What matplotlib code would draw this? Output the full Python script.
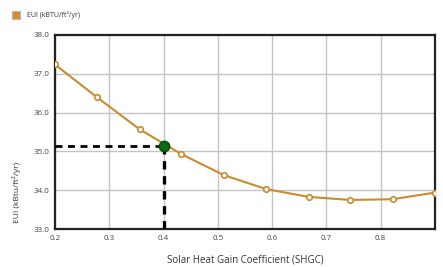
import matplotlib
matplotlib.use("Agg")
import matplotlib.pyplot as plt
from matplotlib.patches import Rectangle

# SHGC sweep and resulting EUI
shgc = [0.2, 0.278, 0.356, 0.433, 0.511, 0.589, 0.667, 0.744, 0.822, 0.9]
eui = [37.24, 36.39, 35.57, 34.93, 34.39, 34.03, 33.83, 33.75, 33.77, 33.94]

# selected design point
sel_shgc = 0.4
sel_eui = 35.15

x_ticks = [0.2, 0.3, 0.4, 0.5, 0.6, 0.7, 0.8]
y_ticks = [33.0, 34.0, 35.0, 36.0, 37.0, 38.0]

line_color = '#c98b2e'

plt.rcParams['font.family'] = ['Open Sans', 'DejaVu Sans']

fig = plt.figure(figsize=(4.43, 2.67), dpi=100)
ax = fig.add_axes([0.124, 0.142, 0.858, 0.727])

ax.plot(shgc, eui, color=line_color, linewidth=1.5, marker='o', markersize=4,
        markerfacecolor='white', markeredgecolor=line_color, markeredgewidth=1.2, zorder=3)

# dashed guide to the selected point
ax.plot([0.2, sel_shgc], [sel_eui, sel_eui], color='black', linestyle=(0, (2.5, 2)),
        linewidth=2, zorder=4)
ax.plot([sel_shgc, sel_shgc], [33.0, sel_eui], color='black', linestyle=(0, (2.5, 2)),
        linewidth=2.4, zorder=4)
ax.plot(sel_shgc, sel_eui, marker='o', markersize=7.5, color='#0b6a12',
        markeredgecolor='#064a0a', zorder=5)

ax.set_xlim(0.2, 0.9)
ax.set_ylim(33.0, 38.0)
ax.set_xticks(x_ticks)
ax.set_yticks(y_ticks)
ax.set_xticklabels([f'{v:.1f}' for v in x_ticks], fontsize=5.8, color='#444444')
ax.set_yticklabels([f'{v:.1f}' for v in y_ticks], fontsize=5.8, color='#444444')
ax.tick_params(length=0, pad=4)
ax.grid(True, color='#c4c4c4', linewidth=1)
ax.set_axisbelow(True)
for s in ax.spines.values():
    s.set_linewidth(1.6)
    s.set_color('#222222')

ax.set_xlabel('Solar Heat Gain Coefficient (SHGC)', fontsize=7, color='#333333', labelpad=9)
ax.set_ylabel('EUI (kBtu/ft²/yr)', fontsize=6, color='#333333')
ax.yaxis.set_label_coords(-0.09, 0.19)

# legend at top left
fig.patches.append(Rectangle((12 / 443, 1 - 19 / 267), 8 / 443, 8 / 267,
                             transform=fig.transFigure, facecolor='#d98a2a',
                             edgecolor='#b9b9b9', linewidth=0.8))
fig.text(27 / 443, 1 - 15 / 267, 'EUI (kBTU/ft²/yr)', fontsize=5, color='#333333',
         va='center', ha='left')

fig.savefig('out.png', dpi=100)
